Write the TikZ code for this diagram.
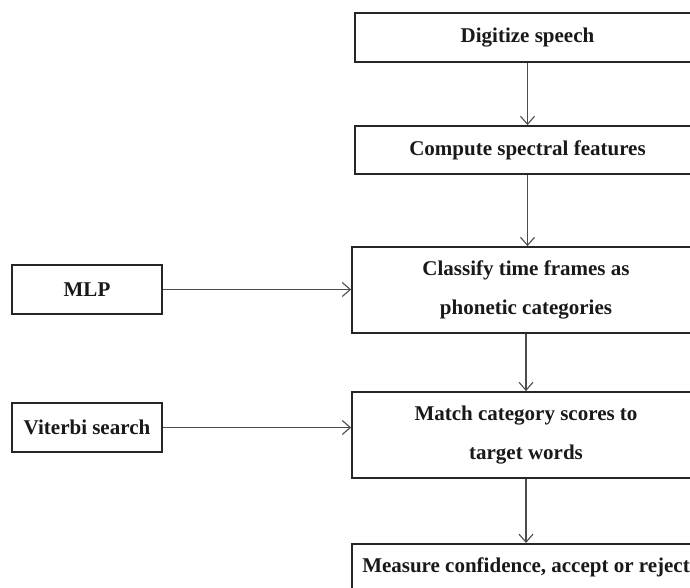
\documentclass[tikz,border=0pt]{standalone}
\usepackage{fontspec}
\setmainfont{Liberation Serif}
\usetikzlibrary{arrows.meta}
\begin{document}
\begin{tikzpicture}[x=1pt,y=-1pt,
  stage/.style={draw=black!85, line width=1.8pt, fill=white, inner sep=0pt,
    align=center, font=\fontsize{21}{39}\selectfont\bfseries, text=black!90},
  flow/.style={draw=black!70, line width=1.1pt,
    -{Straight Barb[length=8pt,width=14pt,line width=1.1pt]}}]
  \useasboundingbox (0,0) rectangle (690,587);
  \clip (0,0) rectangle (690,587);
  \fill[white] (0,0) rectangle (690,587);

  % main pipeline, running off the right edge
  \node[stage, minimum width=345, minimum height=49] (dig) at (527.5,37.5) {Digitize speech};
  \node[stage, minimum width=345, minimum height=48] (spec) at (527.5,150) {Compute spectral features};
  \node[stage, minimum width=348, minimum height=86] (cls) at (526,290) {Classify time frames as\\phonetic categories};
  \node[stage, minimum width=348, minimum height=86] (match) at (526,435) {Match category scores to\\target words};
  \node[stage, minimum width=348, minimum height=52, anchor=north] (conf) at (526,543) {};
  \node[font=\fontsize{21}{24}\selectfont\bfseries, text=black!90] (conft) at (526,567) {Measure confidence, accept or reject};

  % side inputs
  \node[stage, minimum width=150, minimum height=49] (mlp) at (87,289.5) {MLP};
  \node[stage, minimum width=150, minimum height=49] (vit) at (87,427.5) {Viterbi search};

  % connectors
  \draw[flow] (dig.south) -- (spec.north);
  \draw[flow] (spec.south) -- (spec.south |- cls.north);
  \draw[flow] (cls.south) -- (match.north);
  \draw[flow] (match.south) -- (conf.north);
  \draw[flow] (mlp.east) -- (mlp.east -| cls.west);
  \draw[flow] (vit.east) -- (vit.east -| match.west);
\end{tikzpicture}
\end{document}
